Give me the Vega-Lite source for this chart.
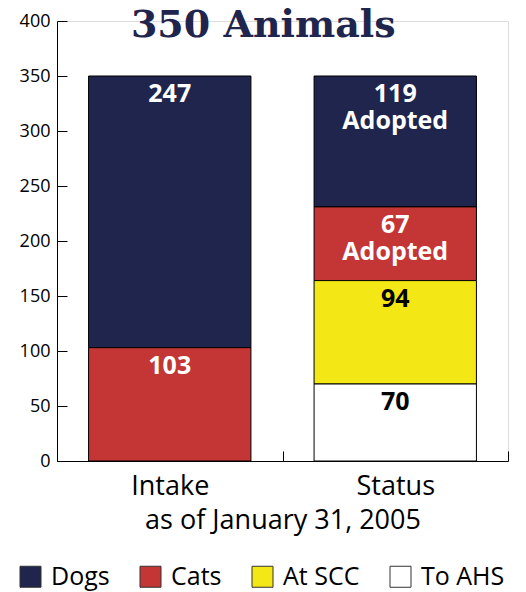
{
  "$schema": "https://vega.github.io/schema/vega-lite/v6.json",
  "autosize": "none",
  "width": 451,
  "height": 440,
  "padding": {"left": 57, "top": 21, "right": 18, "bottom": 131},
  "background": "white",
  "title": {
    "text": "350 Animals",
    "font": "DejaVu Serif",
    "fontSize": 38,
    "fontWeight": "bold",
    "color": "#1f254c",
    "anchor": "middle",
    "frame": "bounds",
    "baseline": "alphabetic",
    "offset": 0,
    "dy": 63,
    "dx": 0
  },
  "data": {
    "values": [
      {"cat": "Intake", "group": "Dogs", "value": 247, "ord": 4, "label": "247"},
      {"cat": "Intake", "group": "Cats", "value": 103, "ord": 3, "label": "103"},
      {"cat": "Status", "group": "Dogs", "value": 119, "ord": 4, "label": "119\nAdopted"},
      {"cat": "Status", "group": "Cats", "value": 67, "ord": 3, "label": "67\nAdopted"},
      {"cat": "Status", "group": "At SCC", "value": 94, "ord": 2, "label": "94"},
      {"cat": "Status", "group": "To AHS", "value": 70, "ord": 1, "label": "70"}
    ]
  },
  "transform": [
    {"stack": "value", "groupby": ["cat"], "sort": [{"field": "ord", "order": "ascending"}], "as": ["y0", "y1"]}
  ],
  "encoding": {
    "x": {
      "field": "cat",
      "type": "nominal",
      "scale": {"paddingInner": 0, "paddingOuter": 0},
      "axis": {
        "title": "as of January 31, 2005",
        "titleFont": "Open Sans",
        "titleFontSize": 27,
        "titleFontWeight": "normal",
        "titleColor": "black",
        "titlePadding": 8,
        "labelAngle": 0,
        "labelFont": "Open Sans",
        "labelFontSize": 27,
        "labelColor": "black",
        "labelPadding": 22,
        "tickBand": "extent",
        "tickSize": -10,
        "tickColor": "black",
        "domainColor": "black",
        "grid": false
      }
    }
  },
  "layer": [
    {
      "mark": {"type": "bar", "width": {"band": 0.72}, "stroke": "black", "strokeWidth": 1},
      "encoding": {
        "y": {
          "field": "y0",
          "type": "quantitative",
          "scale": {"domain": [0, 400]},
          "axis": {
            "title": null,
            "values": [0, 50, 100, 150, 200, 250, 300, 350, 400],
            "grid": false,
            "tickSize": -10,
            "labelPadding": 17,
            "labelFont": "Open Sans",
            "labelFontSize": 18,
            "labelColor": "black",
            "tickColor": "black",
            "domainColor": "black"
          }
        },
        "y2": {"field": "y1"},
        "color": {
          "field": "group",
          "type": "nominal",
          "scale": {
            "domain": ["Dogs", "Cats", "At SCC", "To AHS"],
            "range": ["#1f254c", "#c43536", "#f3e716", "#ffffff"]
          },
          "legend": {
            "title": null,
            "orient": "none",
            "legendX": -39,
            "legendY": 543,
            "direction": "horizontal",
            "columns": 4,
            "symbolType": "square",
            "symbolSize": 441,
            "symbolStrokeColor": "#333333",
            "symbolStrokeWidth": 1,
            "symbolOpacity": 1,
            "labelFont": "Open Sans",
            "labelFontSize": 25,
            "labelColor": "black",
            "labelOffset": 8,
            "columnPadding": 28
          }
        }
      }
    },
    {
      "mark": {"type": "text", "font": "Open Sans", "fontSize": 25, "fontWeight": "bold", "baseline": "top", "lineBreak": "\n", "lineHeight": 27, "dy": 6},
      "encoding": {
        "y": {"field": "y1", "type": "quantitative"},
        "text": {"field": "label"},
        "color": {
          "condition": {"test": "datum.group === 'Dogs' || datum.group === 'Cats'", "value": "white"},
          "value": "black"
        }
      }
    }
  ]
}
